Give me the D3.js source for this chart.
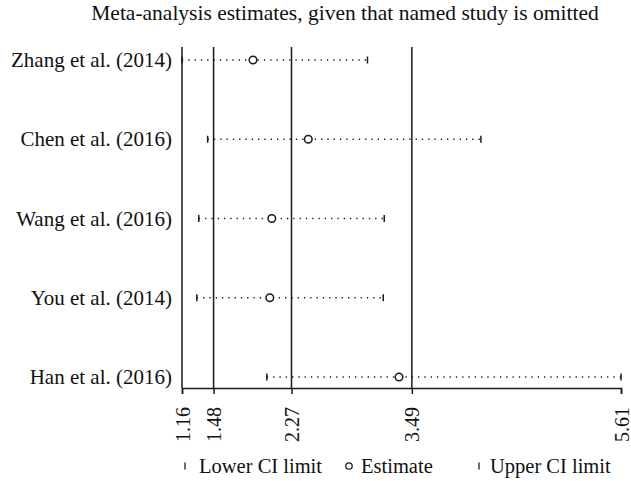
<!DOCTYPE html>
<html>
<head>
<meta charset="utf-8">
<script src="https://cdn.jsdelivr.net/npm/d3@7"></script>
<style>
  html, body { margin: 0; padding: 0; background: #fff; }
  svg { display: block; }
  text { font-family: "Liberation Serif", "DejaVu Serif", serif; fill: #111; }
</style>
</head>
<body>
<div id="chart"></div>
<script>
// Influence analysis: pooled estimate recomputed with each study left out
const studies = ["Zhang et al. (2014)", "Chen et al. (2016)", "Wang et al. (2016)", "You et al. (2014)", "Han et al. (2016)"];
const lowerCI = [1.16, 1.42, 1.33, 1.31, 2.02];
const estimates = [1.88, 2.44, 2.07, 2.05, 3.36];
const upperCI = [3.04, 4.19, 3.21, 3.20, 5.61];

// Full-sample combined result: lower limit, estimate, upper limit
const combined = [1.48, 2.27, 3.49];
const tickValues = [1.16, 1.48, 2.27, 3.49, 5.61];
const tickLabels = ["1.16", "1.48", "2.27", "3.49", "5.61"];

const titleText = "Meta-analysis estimates, given that named study is omitted";
const legendLabels = ["Lower CI limit", "Estimate", "Upper CI limit"];

const W = 631, H = 481;
const plotLeft = 182, plotRight = 621, plotTop = 47, plotBottom = 388;

const svg = d3.select("#chart").append("svg")
  .attr("width", W).attr("height", H);

const x = d3.scaleLinear().domain([tickValues[0], tickValues[tickValues.length - 1]]).range([plotLeft, plotRight]);
const y = d3.scalePoint().domain(studies).range([60, 377]);

const rows = studies.map((s, i) => ({ study: s, lo: lowerCI[i], est: estimates[i], hi: upperCI[i] }));
const ink = "#1a1a1a";

// Title
svg.append("text")
  .attr("x", 345).attr("y", 20)
  .attr("text-anchor", "middle")
  .style("font-size", "21.5px")
  .text(titleText);

// Dotted interval lines
svg.append("g").selectAll("line").data(rows).join("line")
  .attr("x1", d => x(d.lo)).attr("x2", d => x(d.hi))
  .attr("y1", d => y(d.study)).attr("y2", d => y(d.study))
  .attr("stroke", ink).attr("stroke-width", 1.3)
  .attr("stroke-dasharray", "1.3,5");

// Reference lines at the combined lower limit, estimate and upper limit
svg.append("g").selectAll("line").data(combined).join("line")
  .attr("x1", d => x(d)).attr("x2", d => x(d))
  .attr("y1", plotTop).attr("y2", plotBottom)
  .attr("stroke", ink).attr("stroke-width", 1.5);

// Left axis (labels only, no ticks)
const yAxis = svg.append("g")
  .attr("transform", `translate(${plotLeft},0)`)
  .call(d3.axisLeft(y).tickSize(0).tickPadding(10));
yAxis.select(".domain").attr("stroke", ink).attr("stroke-width", 1.5)
  .attr("d", `M0,${plotTop}V${plotBottom}`);
yAxis.selectAll("text")
  .style("font-size", "21px")
  .attr("font-family", null)
  .attr("fill", ink);

// Bottom axis with rotated tick labels
const xAxis = svg.append("g")
  .attr("transform", `translate(0,${plotBottom})`)
  .call(d3.axisBottom(x).tickValues(tickValues).tickFormat((d, i) => tickLabels[i]).tickSizeOuter(0).tickSize(6));
xAxis.select(".domain").attr("stroke", ink).attr("stroke-width", 1.5);
xAxis.selectAll(".tick line").attr("stroke", ink).attr("stroke-width", 1.5);
xAxis.selectAll(".tick text")
  .style("font-size", "20px")
  .attr("font-family", null)
  .attr("fill", ink)
  .attr("text-anchor", "end")
  .attr("x", 0).attr("y", 0)
  .attr("dy", "0.35em")
  .attr("transform", "translate(0,19) rotate(-90)");

// Interval end caps
const capH = 3.5;
const caps = svg.append("g").attr("stroke", ink).attr("stroke-width", 1.5);
caps.selectAll("line.lo").data(rows).join("line").attr("class", "lo")
  .attr("x1", d => x(d.lo)).attr("x2", d => x(d.lo))
  .attr("y1", d => y(d.study) - capH).attr("y2", d => y(d.study) + capH);
caps.selectAll("line.hi").data(rows).join("line").attr("class", "hi")
  .attr("x1", d => x(d.hi)).attr("x2", d => x(d.hi))
  .attr("y1", d => y(d.study) - capH).attr("y2", d => y(d.study) + capH);

// Point estimates
svg.append("g").selectAll("circle").data(rows).join("circle")
  .attr("cx", d => x(d.est)).attr("cy", d => y(d.study))
  .attr("r", 3.8)
  .attr("fill", "#fff").attr("stroke", ink).attr("stroke-width", 1.5);

// Legend
const legendY = 466;
const legendItems = [
  { label: legendLabels[0], kind: "cap", mx: 185, tx: 199 },
  { label: legendLabels[1], kind: "circle", mx: 349, tx: 361 },
  { label: legendLabels[2], kind: "cap", mx: 479, tx: 490 }
];
const lg = svg.append("g");
legendItems.forEach(it => {
  if (it.kind === "cap") {
    lg.append("line")
      .attr("x1", it.mx).attr("x2", it.mx)
      .attr("y1", legendY - capH).attr("y2", legendY + capH)
      .attr("stroke", ink).attr("stroke-width", 1.3);
  } else {
    lg.append("circle")
      .attr("cx", it.mx).attr("cy", legendY).attr("r", 3.2)
      .attr("fill", "#fff").attr("stroke", ink).attr("stroke-width", 1.3);
  }
  lg.append("text")
    .attr("x", it.tx).attr("y", legendY)
    .attr("dy", "0.35em")
    .style("font-size", "20.5px")
    .text(it.label);
});
</script>
</body>
</html>
